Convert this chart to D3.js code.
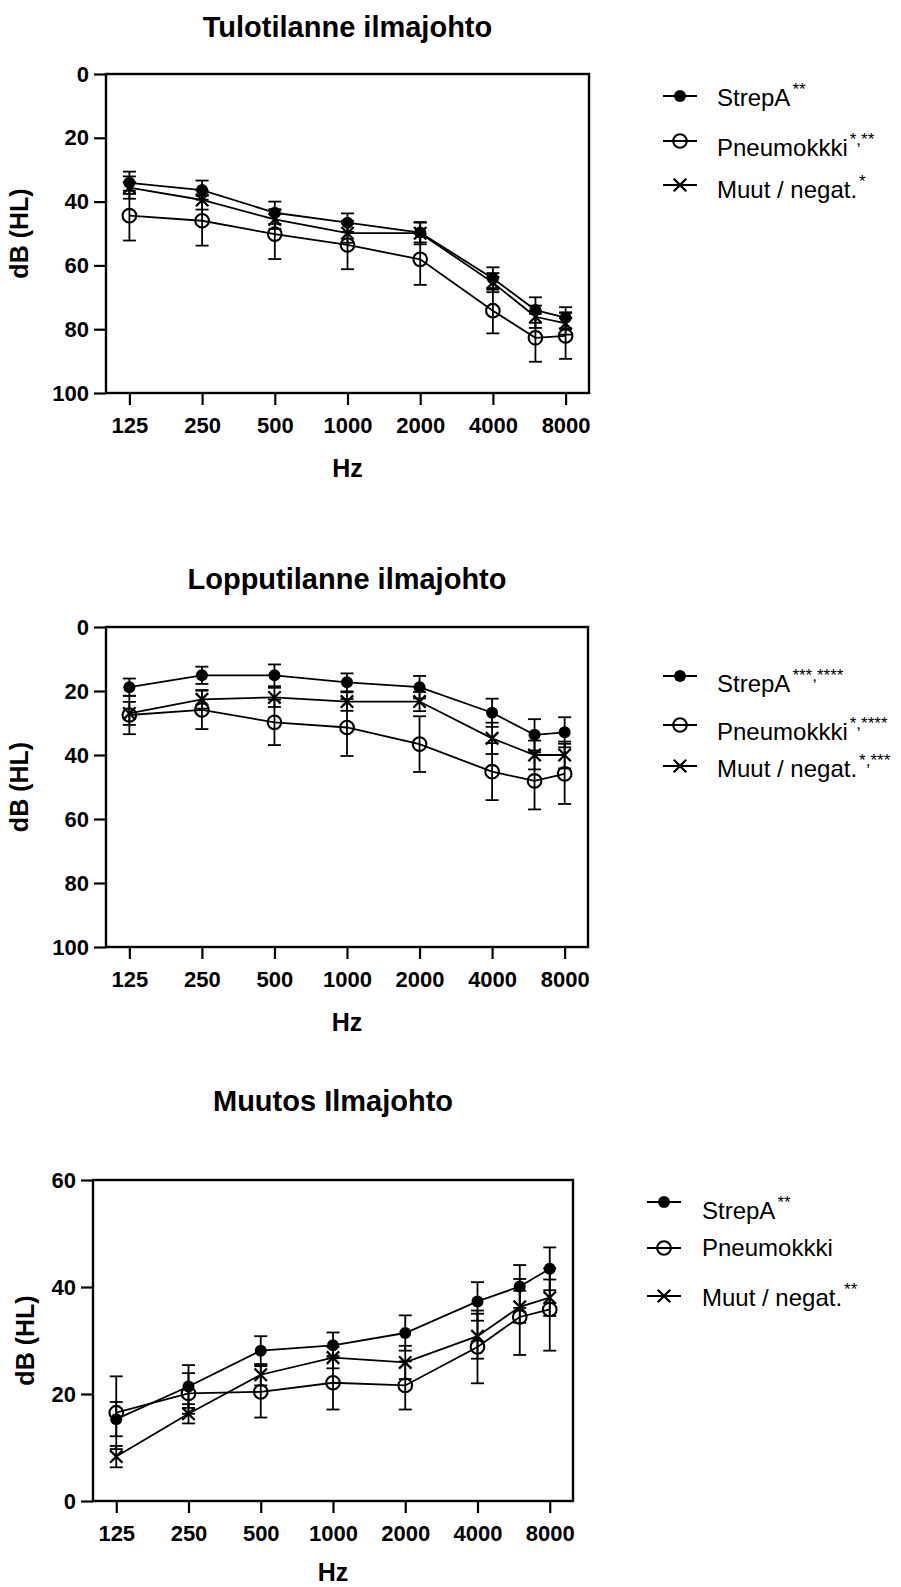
<!DOCTYPE html>
<html><head><meta charset="utf-8">
<script src="https://cdn.jsdelivr.net/npm/d3@7"></script>
<style>
body{margin:0;background:#fff;}
svg{display:block;}
text{font-family:"Liberation Sans",Arial,Helvetica,sans-serif;fill:#000;}
</style>
</head><body>
<svg id="chart" width="901" height="1587"></svg>
<script>
// ---------- DATA ----------
const freqs = [125, 250, 500, 1000, 2000, 4000, 6000, 8000];
const freqTicks = [125, 250, 500, 1000, 2000, 4000, 8000];
const seriesNames = ["StrepA", "Pneumokkki", "Muut / negat."];
const titles = ["Tulotilanne ilmajohto", "Lopputilanne ilmajohto", "Muutos Ilmajohto"];
const xLabel = "Hz";
const yLabel = "dB (HL)";
const yTicksAudiogram = [0, 20, 40, 60, 80, 100];
const yTicksChange = [0, 20, 40, 60];

// Panel 1: Tulotilanne
const tuloStrepA    = [34.1, 36.4, 43.5, 46.6, 49.7, 64.1, 74.0, 76.4];
const tuloStrepAErr = [3.5, 3.0, 3.5, 2.9, 3.1, 3.5, 4.0, 3.3];
const tuloPneumo    = [44.4, 46.0, 50.2, 53.6, 58.1, 74.2, 82.7, 82.1];
const tuloPneumoErr = [7.8, 7.8, 7.8, 7.6, 8.0, 7.1, 7.5, 7.2];
const tuloMuut      = [35.6, 39.5, 45.6, 49.9, 49.9, 65.4, 76.1, 78.2];
const tuloMuutErr   = [3.5, 3.0, 3.0, 3.0, 3.5, 3.0, 3.5, 3.5];
const tuloSup = ["**", "*,**", "*"];

// Panel 2: Lopputilanne
const loppuStrepA    = [18.8, 15.1, 15.1, 17.3, 18.8, 26.8, 33.7, 32.9];
const loppuStrepAErr = [2.7, 2.7, 3.4, 2.8, 3.5, 4.4, 4.9, 4.7];
const loppuPneumo    = [27.5, 25.9, 29.8, 31.4, 36.6, 45.2, 48.1, 45.9];
const loppuPneumoErr = [6.0, 6.0, 7.1, 8.9, 8.7, 8.9, 8.9, 9.4];
const loppuMuut      = [27.0, 22.6, 22.0, 23.3, 23.3, 34.8, 40.0, 40.0];
const loppuMuutErr   = [3.6, 2.9, 3.0, 2.9, 3.0, 4.9, 4.5, 4.2];
const loppuSup = ["***,****", "*,****", "*,***"];

// Panel 3: Muutos
const muutosStrepA    = [15.3, 21.4, 28.1, 29.1, 31.4, 37.3, 40.1, 43.4];
const muutosStrepAErr = [3.2, 4.0, 2.7, 2.4, 3.3, 3.6, 4.0, 4.0];
const muutosPneumo    = [16.5, 20.1, 20.4, 22.1, 21.6, 28.8, 34.4, 35.8];
const muutosPneumoErr = [6.8, 3.8, 4.8, 5.0, 4.5, 6.8, 7.1, 7.7];
const muutosMuut      = [8.3, 16.3, 23.6, 26.8, 25.9, 30.8, 36.3, 38.0];
const muutosMuutErr   = [2.0, 1.8, 2.0, 2.0, 3.1, 4.2, 3.0, 3.4];
const muutosSup = ["**", "", "**"];

// ---------- LAYOUT ----------
const panels = [
  { title: titles[0], means: [tuloStrepA, tuloPneumo, tuloMuut], errs: [tuloStrepAErr, tuloPneumoErr, tuloMuutErr],
    sups: tuloSup, yDomain: [0, 100], yTicks: yTicksAudiogram,
    x0: 106, x1: 589, top: 74, bottom: 393, titleY: 37, ylabX: 28, hzOff: 84,
    legX: 680, legTextX: 717, legRows: [96, 141, 185], legText: [106, 156, 198] },
  { title: titles[1], means: [loppuStrepA, loppuPneumo, loppuMuut], errs: [loppuStrepAErr, loppuPneumoErr, loppuMuutErr],
    sups: loppuSup, yDomain: [0, 100], yTicks: yTicksAudiogram,
    x0: 106, x1: 588, top: 627, bottom: 947, titleY: 589, ylabX: 28, hzOff: 84,
    legX: 680, legTextX: 717, legRows: [676, 725, 766], legText: [692, 740, 777] },
  { title: titles[2], means: [muutosStrepA, muutosPneumo, muutosMuut], errs: [muutosStrepAErr, muutosPneumoErr, muutosMuutErr],
    sups: muutosSup, yDomain: [60, 0], yTicks: yTicksChange,
    x0: 93, x1: 573, top: 1180, bottom: 1501, titleY: 1111, ylabX: 34, hzOff: 80,
    legX: 664, legTextX: 702, legRows: [1202, 1248, 1296], legText: [1219, 1256, 1306] }
];

const svg = d3.select("#chart");
const symbols = ["filled", "open", "cross"];

function drawMarker(g, type, cx, cy) {
  if (type === "filled") {
    g.append("circle").attr("cx", cx).attr("cy", cy).attr("r", 6).attr("fill", "#000");
  } else if (type === "open") {
    g.append("circle").attr("cx", cx).attr("cy", cy).attr("r", 6.8)
      .attr("fill", "none").attr("stroke", "#000").attr("stroke-width", 2.1);
  } else {
    const s = 6.2;
    g.append("path").attr("d", `M${cx - s},${cy - s}L${cx + s},${cy + s}M${cx - s},${cy + s}L${cx + s},${cy - s}`)
      .attr("stroke", "#000").attr("stroke-width", 2.3).attr("fill", "none");
  }
}

panels.forEach(p => {
  const x = d3.scaleLog().domain([100, 10000]).range([p.x0, p.x1]);
  const y = d3.scaleLinear().domain(p.yDomain).range([p.top, p.bottom]);
  const g = svg.append("g");

  // title
  g.append("text").attr("x", (p.x0 + p.x1) / 2).attr("y", p.titleY)
    .attr("text-anchor", "middle").style("font-size", "29px").style("font-weight", "bold").text(p.title);

  // axes
  const yAxis = d3.axisLeft(y).tickValues(p.yTicks).tickFormat(d3.format("d")).tickSize(12).tickPadding(5);
  const ya = g.append("g").attr("transform", `translate(${p.x0},0)`).call(yAxis);
  const xAxis = d3.axisBottom(x).tickValues(freqTicks).tickFormat(d3.format("d")).tickSize(12).tickPadding(12);
  const xa = g.append("g").attr("transform", `translate(0,${p.bottom})`).call(xAxis);
  [ya, xa].forEach(a => {
    a.select(".domain").remove();
    a.selectAll(".tick line").attr("stroke", "#000").attr("stroke-width", 2.2);
    a.selectAll(".tick text").style("font-size", "22px").style("font-weight", "bold")
      .attr("fill", "#000").style("font-family", '"Liberation Sans",Arial,sans-serif');
  });

  // frame
  g.append("rect").attr("x", p.x0).attr("y", p.top).attr("width", p.x1 - p.x0).attr("height", p.bottom - p.top)
    .attr("fill", "none").attr("stroke", "#000").attr("stroke-width", 2.4);

  // axis labels
  g.append("text").attr("x", (p.x0 + p.x1) / 2).attr("y", p.bottom + p.hzOff)
    .attr("text-anchor", "middle").style("font-size", "25px").style("font-weight", "bold").text(xLabel);
  g.append("text").attr("transform", `translate(${p.ylabX},${(p.top + p.bottom) / 2}) rotate(-90)`)
    .attr("text-anchor", "middle").style("font-size", "25px").style("font-weight", "bold").text(yLabel);

  const line = d3.line().x((d, i) => x(freqs[i])).y(d => y(d));

  p.means.forEach((m, si) => {
    const e = p.errs[si];
    const sg = g.append("g");
    // error bars
    m.forEach((v, i) => {
      const cx = x(freqs[i]);
      sg.append("line").attr("x1", cx).attr("x2", cx).attr("y1", y(v - e[i])).attr("y2", y(v + e[i]))
        .attr("stroke", "#000").attr("stroke-width", 1.8);
      [v - e[i], v + e[i]].forEach(w => {
        sg.append("line").attr("x1", cx - 6.5).attr("x2", cx + 6.5).attr("y1", y(w)).attr("y2", y(w))
          .attr("stroke", "#000").attr("stroke-width", 1.8);
      });
    });
    // connecting line
    sg.append("path").datum(m).attr("d", line).attr("fill", "none").attr("stroke", "#000").attr("stroke-width", 1.8);
    // markers
    m.forEach((v, i) => drawMarker(sg, symbols[si], x(freqs[i]), y(v)));
  });

  // legend
  seriesNames.forEach((name, si) => {
    const ly = p.legRows[si];
    g.append("line").attr("x1", p.legX - 17).attr("x2", p.legX + 17).attr("y1", ly).attr("y2", ly)
      .attr("stroke", "#000").attr("stroke-width", 1.8);
    drawMarker(g, symbols[si], p.legX, ly);
    const t = g.append("text").attr("x", p.legTextX).attr("y", p.legText[si]).style("font-size", "24px");
    t.append("tspan").text(name);
    if (p.sups[si]) {
      t.append("tspan").attr("dx", 2).attr("dy", -11).style("font-size", "17px").text(p.sups[si]);
    }
  });
});
</script>
</body></html>
